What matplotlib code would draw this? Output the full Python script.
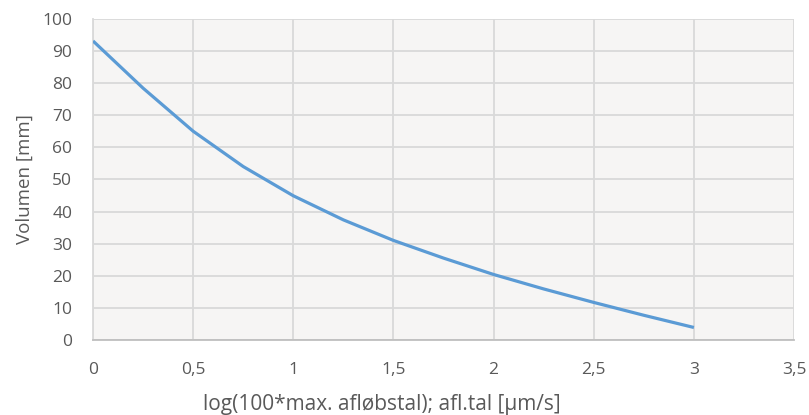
import numpy as np
import matplotlib.pyplot as plt

# aflæste punkter på kurven
log_afl = [0, 0.25, 0.5, 0.75, 1.0, 1.25, 1.5, 1.75, 2.0, 2.25, 2.5, 2.75, 3.0]
volumen = [93.1, 78.4, 65.0, 54.0, 44.9, 37.4, 31.0, 25.5, 20.4, 15.9, 11.7, 7.7, 3.9]

x_ticks = [0, 0.5, 1, 1.5, 2, 2.5, 3, 3.5]
x_labels = ["0", "0,5", "1", "1,5", "2", "2,5", "3", "3,5"]
y_ticks = list(range(0, 101, 10))

plt.rcParams['font.family'] = ['Open Sans', 'DejaVu Sans']
txt = "#595959"

fig = plt.figure(figsize=(8.09, 4.15), dpi=100)
ax = fig.add_axes([0.115, 0.1807, 0.8665, 0.774])
ax.set_facecolor("#F6F5F4")

ax.plot(log_afl, volumen, color="#5B9BD5", lw=2.3, solid_capstyle="butt",
        solid_joinstyle="round", zorder=3)

ax.set_xlim(0, 3.5)
ax.set_ylim(0, 100)
ax.set_xticks(x_ticks)
ax.set_xticklabels(x_labels)
ax.set_yticks(y_ticks)
ax.grid(True, color="#D9D9D9", lw=1.3)
ax.set_axisbelow(True)

for s in ["top", "right"]:
    ax.spines[s].set_visible(False)
ax.spines["left"].set_color("#D9D9D9")
ax.spines["left"].set_linewidth(1.3)
ax.spines["bottom"].set_color("#BFBFBF")
ax.spines["bottom"].set_linewidth(1.3)

ax.tick_params(length=0, labelsize=12.5, colors=txt)
ax.tick_params(axis="x", pad=16)
ax.tick_params(axis="y", pad=15)

ax.set_xlabel("log(100*max. afløbstal); afl.tal [μm/s]", fontsize=15, color=txt,
              va="center")
ax.xaxis.set_label_coords(0.4116, -0.2)
ax.set_ylabel("Volumen [mm]", fontsize=13.5, color=txt, labelpad=6)

fig.savefig("out.png", dpi=100)
